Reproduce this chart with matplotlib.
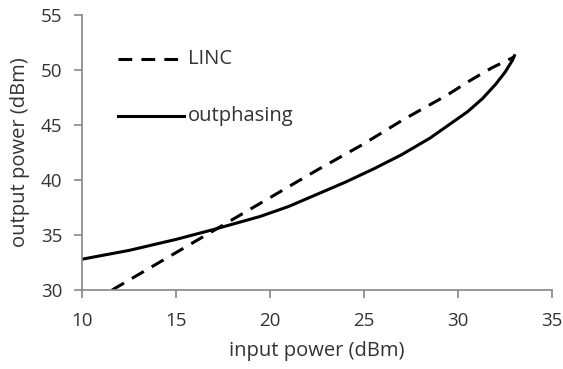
import matplotlib

matplotlib.use("Agg")
import matplotlib.pyplot as plt

# LINC (dashed)
linc_x = [11.6, 14.0, 17.0, 20.0, 22.5, 24.9, 27.1, 29.4, 30.6, 31.8, 33.0]
linc_y = [30.0, 32.4, 35.4, 38.4, 40.9, 43.2, 45.5, 47.7, 49.0, 50.2, 51.2]

# outphasing (solid)
outp_x = [10.0, 12.5, 15.0, 17.0, 19.5, 21.0, 22.5, 24.0, 25.5, 27.0, 28.5,
          29.5, 30.5, 31.3, 32.0, 32.5, 32.9, 33.0]
outp_y = [32.8, 33.6, 34.6, 35.5, 36.7, 37.6, 38.7, 39.8, 41.0, 42.3, 43.8,
          45.0, 46.2, 47.4, 48.7, 49.8, 50.9, 51.3]

plt.rcParams["font.family"] = ["Open Sans", "DejaVu Sans"]
text_color = "#333333"
axis_color = "#868686"

fig = plt.figure(figsize=(5.63, 3.69), dpi=100)
ax = fig.add_axes([0.1457, 0.2141, 0.8348, 0.7452])

ax.plot(linc_x, linc_y, color="black", lw=2.2, dashes=(4.5, 3))
ax.plot(outp_x, outp_y, color="black", lw=2.2)

# legend drawn inside the plot area
ax.plot([11.9, 15.4], [51.0, 51.0], color="black", lw=2.2, dashes=(4.5, 3))
ax.text(15.65, 51.0, "LINC", va="center", ha="left", fontsize=14.5, color=text_color)
ax.plot([11.9, 15.4], [45.8, 45.8], color="black", lw=2.2)
ax.text(15.65, 45.8, "outphasing", va="center", ha="left", fontsize=14.5, color=text_color)

ax.set_xlim(10, 35)
ax.set_ylim(30, 55)
ax.set_xticks(range(10, 36, 5))
ax.set_yticks(range(30, 56, 5))

for side in ["top", "right"]:
    ax.spines[side].set_visible(False)
for side in ["left", "bottom"]:
    ax.spines[side].set_color(axis_color)
    ax.spines[side].set_linewidth(1.2)
ax.tick_params(direction="out", length=6, width=1.2, color=axis_color,
               labelcolor=text_color, labelsize=13.5)
ax.tick_params(axis="x", pad=10)
ax.tick_params(axis="y", pad=8)

ax.set_xlabel("input power (dBm)", fontsize=14.5, color=text_color, labelpad=8)
ax.set_ylabel("output power (dBm)", fontsize=14.5, color=text_color, labelpad=8)

fig.savefig("out.png", dpi=100)
